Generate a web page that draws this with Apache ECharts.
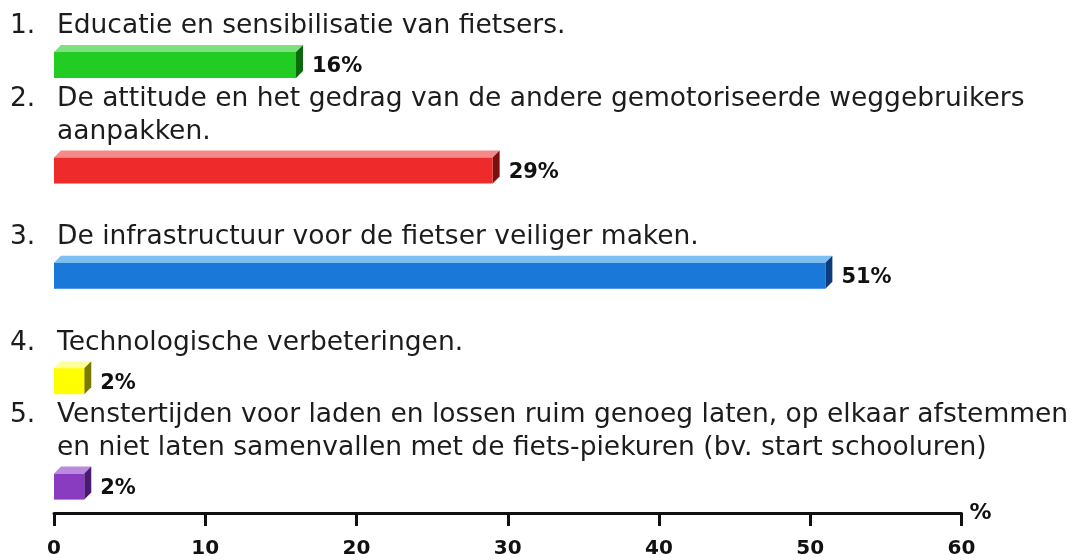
<!DOCTYPE html>
<html>
<head>
<meta charset="utf-8">
<script src="https://cdn.jsdelivr.net/npm/echarts@6/dist/echarts.min.js"></script>
<style>
html,body{margin:0;padding:0;background:#fff;}
#main{width:1075px;height:560px;}
</style>
</head>
<body>
<div id="main"></div>
<script>
var numbers = ['1.', '2.', '3.', '4.', '5.'];
var categories = [
  'Educatie en sensibilisatie van fietsers.',
  'De attitude en het gedrag van de andere gemotoriseerde weggebruikers\naanpakken.',
  'De infrastructuur voor de fietser veiliger maken.',
  'Technologische verbeteringen.',
  'Venstertijden voor laden en lossen ruim genoeg laten, op elkaar afstemmen\nen niet laten samenvallen met de fiets-piekuren (bv. start schooluren)'
];
var values = [16, 29, 51, 2, 2];
var frontColors = ['#22cc22', '#ee2a2a', '#1a78d8', '#ffff00', '#8a3cc0'];
var topColors = ['#7ee07e', '#f28a8a', '#7cc0f2', '#ffff99', '#b98ae0'];
var sideColors = ['#0b6a0b', '#7a1010', '#0c3c7c', '#7a7a00', '#4a1a72'];
var xTicks = [0, 10, 20, 30, 40, 50, 60];

var chart = echarts.init(document.getElementById('main'), null, {renderer: 'canvas'});

var catFont = '26.5px "DejaVu Sans", Verdana, sans-serif';
var boldFont = 'bold 21px "DejaVu Sans", Verdana, sans-serif';

function renderItem(params, api) {
  var i = api.value(1);
  var v = api.value(0);
  var p0 = api.coord([0, i]);
  var p1 = api.coord([v, i]);
  var h = 26, d = 7;
  var x0 = p0[0], x1 = p1[0], cy = p0[1];
  var yt = cy - h / 2, yb = cy + h / 2;
  var nLines = categories[i].split('\n').length;
  return {
    type: 'group',
    children: [
      {type: 'polygon', shape: {points: [[x0, yt], [x0 + d, yt - d], [x1 + d, yt - d], [x1, yt]]},
        style: {fill: topColors[i]}},
      {type: 'polygon', shape: {points: [[x1, yt], [x1 + d, yt - d], [x1 + d, yb - d], [x1, yb]]},
        style: {fill: sideColors[i]}},
      {type: 'rect', shape: {x: x0, y: yt, width: x1 - x0, height: h},
        style: {fill: frontColors[i]}},
      {type: 'text', x: x1 + d + 9, y: cy + 2,
        style: {text: v + '%', fill: '#111', font: boldFont,
          align: 'left', verticalAlign: 'middle'}},
      {type: 'text', x: x0 + 3, y: cy - 22,
        style: {text: categories[i], fill: '#1c1c1c', font: catFont,
          align: 'left', verticalAlign: 'bottom', lineHeight: 33}},
      {type: 'text', x: x0 - 44, y: cy - 22 - (nLines - 1) * 33,
        style: {text: numbers[i], fill: '#1c1c1c', font: catFont,
          align: 'left', verticalAlign: 'bottom', lineHeight: 33}}
    ]
  };
}

chart.setOption({
  animation: false,
  backgroundColor: '#ffffff',
  grid: {left: 54, right: 113.5, top: 12.3, bottom: 20.7, containLabel: false, outerBoundsMode: 'none'},
  xAxis: {
    type: 'value', min: xTicks[0], max: xTicks[xTicks.length - 1], interval: 10,
    offset: -26.3,
    name: '%', nameLocation: 'end', nameGap: 8,
    nameTextStyle: {color: '#111', fontWeight: 'bold', fontSize: 22, fontFamily: '"DejaVu Sans", Verdana, sans-serif', verticalAlign: 'middle'},
    axisLine: {show: true, lineStyle: {color: '#111', width: 3}},
    axisTick: {show: true, inside: false, length: 13, lineStyle: {color: '#111', width: 3}},
    axisLabel: {color: '#111', fontWeight: 'bold', fontSize: 20, fontFamily: '"DejaVu Sans", Verdana, sans-serif', margin: 26},
    splitLine: {show: false}
  },
  yAxis: {
    type: 'category', inverse: true, data: categories,
    axisLine: {show: false}, axisTick: {show: false}, axisLabel: {show: false}, splitLine: {show: false}
  },
  series: [{
    type: 'custom',
    renderItem: renderItem,
    encode: {x: 0, y: 1},
    data: values.map(function (v, i) { return [v, i]; }),
    clip: false
  }]
});
</script>
</body>
</html>
